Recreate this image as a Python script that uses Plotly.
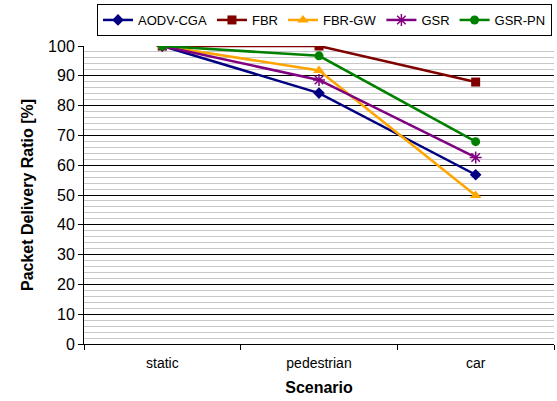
import plotly.graph_objects as go

scenarios = ["static", "pedestrian", "car"]
aodv_cga = [100, 84.2, 56.8]
fbr = [100, 100, 87.9]
fbr_gw = [100, 91.8, 49.8]
gsr = [100, 88.6, 62.6]
gsr_pn = [100, 96.7, 67.9]

series = [
    ("AODV-CGA", aodv_cga, "#000080", "diamond", 9),
    ("FBR", fbr, "#800000", "square", 9),
    ("FBR-GW", fbr_gw, "#FFA500", "triangle-up", 10),
    ("GSR", gsr, "#800080", "asterisk-open", 10),
    ("GSR-PN", gsr_pn, "#008000", "circle", 9),
]

fig = go.Figure()
for name, vals, color, sym, size in series:
    fig.add_trace(go.Scatter(
        x=scenarios, y=vals, name=name, mode="lines+markers",
        line=dict(color=color, width=2.5),
        marker=dict(symbol=sym, size=size, color=color,
                    line=dict(color=color, width=1.5 if sym == "asterisk-open" else 0)),
    ))

fig.update_layout(
    width=557, height=401,
    margin=dict(l=84, r=3, t=46, b=57, autoexpand=False),
    paper_bgcolor="white", plot_bgcolor="white",
    font=dict(family="Liberation Sans, Arial, sans-serif", color="black", size=13),
    legend=dict(
        orientation="h", xref="container", yref="container",
        x=97 / 557, y=1 - 4 / 401, xanchor="left", yanchor="top",
        bordercolor="black", borderwidth=1, bgcolor="white",
        font=dict(size=13), itemwidth=30, tracegroupgap=0,
    ),
    xaxis=dict(
        type="category", range=[-0.5, 2.5], tickson="boundaries",
        showgrid=False, showline=True, linecolor="black", linewidth=1,
        ticks="outside", ticklen=5, tickcolor="black",
        tickfont=dict(size=14), fixedrange=True, automargin=False,
        ticklabelstandoff=6,
        title=dict(text="<b>Scenario</b>", font=dict(size=16), standoff=12),
    ),
    yaxis=dict(
        range=[0, 100], dtick=10, showgrid=True, gridcolor="black", gridwidth=1,
        showline=True, linecolor="black", linewidth=1,
        ticks="outside", ticklen=5, tickcolor="black",
        tickfont=dict(size=16), zeroline=False, automargin=False,
        minor=dict(dtick=2, showgrid=True, gridcolor="#c8c8c8", gridwidth=1),
        title=dict(text="<b>Packet Delivery Ratio [%]</b>", font=dict(size=16), standoff=10),
    ),
)

fig.write_html("out.html", config={"displayModeBar": False},
               post_script="document.body.style.margin='0';")
